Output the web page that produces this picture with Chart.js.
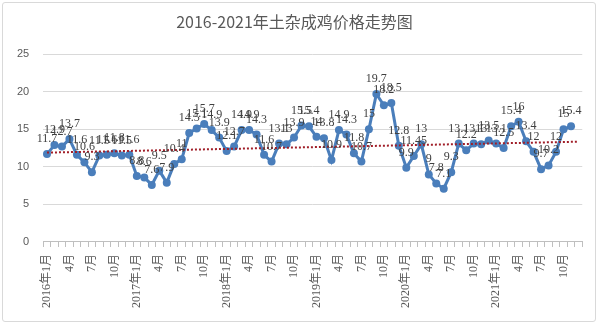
<!DOCTYPE html>
<html>
<head>
<meta charset="utf-8">
<script src="https://cdn.jsdelivr.net/npm/chart.js@4.4.0/dist/chart.umd.min.js"></script>
<style>
  html, body { margin: 0; padding: 0; background: #fff; }
  #wrap { position: relative; width: 600px; height: 326px; }
  #frame { position: absolute; left: 2px; top: 2px; width: 594px; height: 320px;
           border: 1px solid #d9d9d9; border-radius: 3px; box-sizing: border-box; }
  #myChart { position: absolute; left: 0; top: 0; }
</style>
</head>
<body>
<div id="wrap">
  <div id="frame"></div>
  <canvas id="myChart" width="600" height="326"></canvas>
</div>
<script>
var months = [
  '2016年1月', '2月', '3月', '4月', '5月', '6月', '7月', '8月', '9月', '10月', '11月', '12月',
  '2017年1月', '2月', '3月', '4月', '5月', '6月', '7月', '8月', '9月', '10月', '11月', '12月',
  '2018年1月', '2月', '3月', '4月', '5月', '6月', '7月', '8月', '9月', '10月', '11月', '12月',
  '2019年1月', '2月', '3月', '4月', '5月', '6月', '7月', '8月', '9月', '10月', '11月', '12月',
  '2020年1月', '2月', '3月', '4月', '5月', '6月', '7月', '8月', '9月', '10月', '11月', '12月',
  '2021年1月', '2月', '3月', '4月', '5月', '6月', '7月', '8月', '9月', '10月', '11月', '12月'
];

// price per month, 元/kg
var prices = [
  11.7, 12.9, 12.7, 13.7, 11.6, 10.6, 9.3, 11.5, 11.6, 11.8, 11.5, 11.6,
  8.8, 8.6, 7.6, 9.5, 7.9, 10.4, 11, 14.5, 15.1, 15.7, 14.9, 13.9,
  12.1, 12.7, 14.9, 14.9, 14.3, 11.6, 10.7, 13.1, 13, 13.9, 15.5, 15.4,
  14, 13.8, 10.9, 14.9, 14.3, 11.8, 10.7, 15, 19.7, 18.2, 18.5, 12.8,
  9.9, 11.45, 13, 9, 7.8, 7.1, 9.3, 13.1, 12.2, 13.1, 13, 13.5,
  13.1, 12.5, 15.4, 16, 13.4, 12, 9.7, 10.2, 12, 15, 15.4, null
];

// linear trend, value at first and last month
var trendStart = 11.9;
var trendEnd = 13.35;

var yTicks = [0, 5, 10, 15, 20, 25];

var trend = months.map(function(m, i) {
    if (i === 0) return trendStart;
    if (i === months.length - 1) return trendEnd;
    return null;
});

// value labels above each point
var pointLabels = {
    id: 'pointLabels',
    afterDatasetsDraw: function(chart) {
        var ctx = chart.ctx;
        var meta = chart.getDatasetMeta(0);
        ctx.save();
        ctx.font = '12px "Liberation Serif", "Noto Sans CJK SC"';
        ctx.fillStyle = '#404040';
        ctx.textAlign = 'center';
        ctx.textBaseline = 'alphabetic';
        for (var i = 0; i < meta.data.length; i++) {
            var v = prices[i];
            if (v === null) continue;
            var pt = meta.data[i];
            ctx.fillText(String(v), pt.x, pt.y - 12);
        }
        ctx.restore();
    }
};

var ctx = document.getElementById('myChart').getContext('2d');
var myChart = new Chart(ctx, {
    type: 'line',
    data: {
        labels: months,
        datasets: [{
            label: '价格',
            data: prices,
            borderColor: '#4A7EBB',
            backgroundColor: '#4A7EBB',
            borderWidth: 3,
            pointRadius: 4,
            pointBackgroundColor: '#4A7EBB',
            pointBorderWidth: 0,
            tension: 0,
            order: 1
        }, {
            label: '线性趋势',
            data: trend,
            spanGaps: true,
            borderColor: '#A01E28',
            borderWidth: 2,
            borderDash: [2, 2],
            pointRadius: 0,
            order: 0
        }]
    },
    options: {
        responsive: false,
        animation: false,
        layout: { padding: { left: 3, right: 14, top: 6, bottom: 11 } },
        plugins: {
            legend: { display: false },
            tooltip: { enabled: false },
            title: {
                display: true,
                text: '2016-2021年土杂成鸡价格走势图',
                color: '#595959',
                font: { family: '"Noto Sans CJK SC"', size: 16, weight: 'normal' },
                padding: { top: 6, bottom: 23 }
            }
        },
        scales: {
            x: {
                offset: true,
                grid: { drawOnChartArea: false, offset: true, tickLength: 5, color: '#bfbfbf' },
                border: { color: '#bfbfbf' },
                ticks: {
                    autoSkip: false,
                    minRotation: 90,
                    maxRotation: 90,
                    padding: 7,
                    color: '#595959',
                    font: { family: '"Liberation Serif", "Noto Sans CJK SC"', size: 12 },
                    callback: function(val, index) {
                        return index % 3 === 0 ? months[index] : '';
                    }
                }
            },
            y: {
                min: yTicks[0],
                max: yTicks[yTicks.length - 1],
                grid: { color: '#d9d9d9', drawTicks: false },
                border: { display: false },
                afterBuildTicks: function(axis) {
                    axis.ticks = yTicks.map(function(v) { return { value: v }; });
                },
                ticks: {
                    padding: 14,
                    color: '#595959',
                    font: { family: '"Liberation Sans"', size: 11 }
                }
            }
        }
    },
    plugins: [pointLabels]
});
</script>
</body>
</html>
